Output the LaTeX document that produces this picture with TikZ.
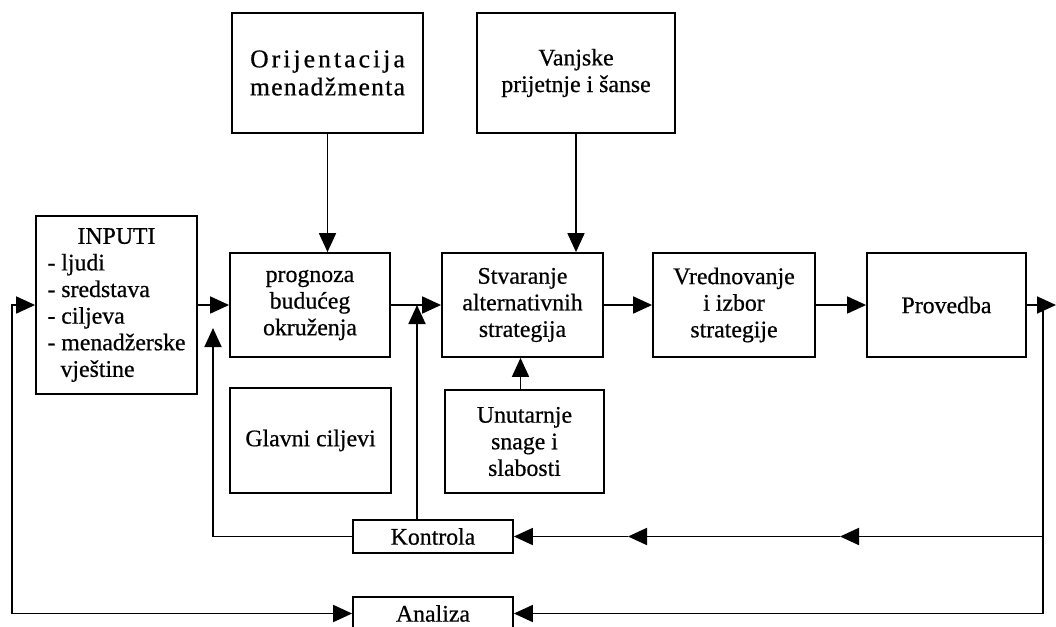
\documentclass[tikz,border=0pt]{standalone}
\usepackage{fontspec}
\setmainfont{Liberation Serif}[FakeBold=0.6]
\usetikzlibrary{arrows.meta}
\begin{document}
\begin{tikzpicture}[x=0.5pt,y=-0.5pt,
  box/.style={draw, line width=0.9pt, inner sep=0pt, align=center, font=\fontsize{11.9}{13.3}\selectfont},
  conn/.style={line width=0.9pt},
  arr/.style={conn, -{Triangle[length=9.5pt,width=8.5pt]}},
]
\useasboundingbox (0,0) rectangle (1056,627);
\clip (0,0) rectangle (1056,627);

\node[box, minimum width=95.5pt, minimum height=60pt, font=\fontsize{12.8}{14}\selectfont] (orij) at (327.5,73) {{\addfontfeatures{LetterSpace=12}Orijentacija}\\{\addfontfeatures{LetterSpace=5}menadžmenta}};
\node[box, minimum width=99pt, minimum height=60pt] (vanj) at (576,73) {Vanjske\\prijetnje i šanse};

\node[box, minimum width=80.5pt, minimum height=89pt] (inp) at (116.5,305) {\begin{tabular}{@{}l@{}}\multicolumn{1}{@{}c@{}}{INPUTI}\\- ljudi\\- sredstava\\- ciljeva\\- menadžerske\\\hspace*{0.55em}vještine\end{tabular}};
\node[box, minimum width=80pt, minimum height=52pt] (prog) at (310,305) {prognoza\\budućeg\\okruženja};
\node[box, minimum width=80.5pt, minimum height=52pt] (stv) at (522.5,305) {Stvaranje\\alternativnih\\strategija};
\node[box, minimum width=81pt, minimum height=52pt] (vred) at (734,305) {Vrednovanje\\i izbor\\strategije};
\node[box, minimum width=79.5pt, minimum height=52pt] (prov) at (946.5,305) {Provedba};

\node[box, minimum width=80.5pt, minimum height=52.5pt] (glav) at (310.5,440.5) {Glavni ciljevi};
\node[box, minimum width=79.5pt, minimum height=51.5pt] (unut) at (524.5,441.5) {Unutarnje\\snage i\\slabosti};

\node[box, minimum width=80pt, minimum height=16.5pt] (kont) at (433,536.5) {Kontrola};
\node[box, minimum width=80pt, minimum height=16.5pt] (anal) at (433,613.5) {Analiza};

\coordinate (out) at (1056,305);
\coordinate (rj) at (1043,305);
\coordinate (rb) at (1043,613.5);
\coordinate (rk) at (1043,536.5);
\coordinate (k1) at (840,536.5);
\coordinate (k2) at (628,536.5);
\coordinate (lb) at (12,613.5);
\coordinate (ku) at (213,328);

\draw[arr] (orij.south) -- (orij.south |- prog.north);
\draw[arr] (vanj.south) -- (vanj.south |- stv.north);
\draw[arr] ([xshift=-2pt]unut.north) -- ([xshift=-2pt]unut.north |- stv.south);
\draw[arr] (inp.east) -- (prog.west);
\draw[arr] (prog.east) -- (stv.west);
\draw[arr] (stv.east) -- (vred.west);
\draw[arr] (vred.east) -- (prov.west);
\draw[arr] (prov.east) -- (out);
\draw[conn] (rj) -- (rb);
\draw[arr] (rb) -- (anal.east);
\draw[arr] (rk) -- (k1);
\draw[arr] (k1) -- (k2);
\draw[arr] (k2) -- (kont.east);
\draw[arr] (kont.west) -| (ku);
\draw[arr] ([xshift=-8pt]kont.north) -- ([xshift=-8pt]kont.north |- prog.east);
\draw[arr] (lb) -- (anal.west);
\draw[arr] (lb) |- (inp.west);
\end{tikzpicture}
\end{document}
